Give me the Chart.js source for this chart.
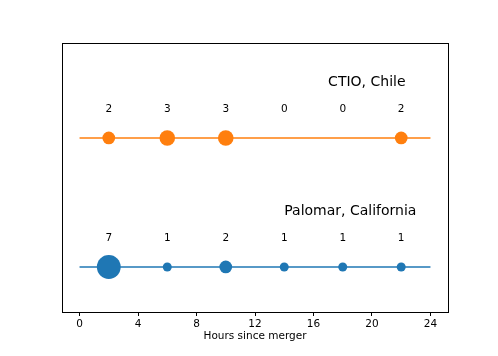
<!DOCTYPE html>
<html>
<head>
<meta charset="utf-8">
<script src="https://cdn.jsdelivr.net/npm/chart.js@4.4.1/dist/chart.umd.min.js"></script>
<style>
  html, body { margin: 0; padding: 0; background: #fff; }
  #wrap { width: 498px; height: 356px; }
</style>
</head>
<body>
<div id="wrap"><canvas id="chart" width="498" height="356"></canvas></div>
<script>
/* ── DATA ─────────────────────────────────────────────────── */
const hours         = [2, 6, 10, 14, 18, 22];
const ctioCounts    = [2, 3, 3, 0, 0, 2];
const palomarCounts = [7, 1, 2, 1, 1, 1];
const xTicks        = [0, 4, 8, 12, 16, 20, 24];
const siteNames     = ['CTIO, Chile', 'Palomar, California'];
const siteRows      = [1, 0];          // y position of each site row
const lineSpan      = [0, 24];
const xTitle        = 'Hours since merger';

const ORANGE = '#ff7f0e';
const BLUE   = '#1f77b4';
const FONT   = 'DejaVu Sans';

// marker radius grows with the square root of the count
const radiusFor = c => c > 0 ? 4.5 * Math.sqrt(c) : 0;

function rowDatasets(counts, row, color) {
  return [
    {
      type: 'line',
      data: lineSpan.map(x => ({ x, y: row })),
      borderColor: color,
      borderWidth: 1.6,
      pointRadius: 0,
      order: 2,
    },
    {
      type: 'scatter',
      data: hours.map(h => ({ x: h, y: row })),
      backgroundColor: color,
      borderWidth: 0,
      pointRadius: counts.map(radiusFor),
      pointHoverRadius: counts.map(radiusFor),
      order: 1,
    }
  ];
}

/* ── FRAME + LABELS PLUGIN ────────────────────────────────── */
const annotate = {
  id: 'annotate',
  afterDraw(chart) {
    const { ctx, chartArea: a, scales: { x, y } } = chart;
    ctx.save();
    ctx.strokeStyle = '#000';
    ctx.lineWidth = 1;
    ctx.strokeRect(Math.round(a.left) + 0.5, Math.round(a.top) + 0.5,
                   Math.round(a.right - a.left), Math.round(a.bottom - a.top));

    ctx.fillStyle = '#000';
    ctx.textBaseline = 'middle';
    ctx.textAlign = 'center';
    ctx.font = `10.5px "${FONT}"`;
    [ctioCounts, palomarCounts].forEach((counts, i) => {
      const py = y.getPixelForValue(siteRows[i] + 0.222);
      counts.forEach((c, j) => ctx.fillText(String(c), x.getPixelForValue(hours[j]), py));
    });

    // axis title
    ctx.fillText(xTitle, (a.left + a.right) / 2, a.bottom + 24);

    ctx.textAlign = 'left';
    ctx.font = `14px "${FONT}"`;
    ctx.fillText(siteNames[0], x.getPixelForValue(17), y.getPixelForValue(siteRows[0] + 0.43));
    ctx.fillText(siteNames[1], x.getPixelForValue(14), y.getPixelForValue(siteRows[1] + 0.43));
    ctx.restore();
  }
};

new Chart(document.getElementById('chart'), {
  data: {
    datasets: [
      ...rowDatasets(ctioCounts, siteRows[0], ORANGE),
      ...rowDatasets(palomarCounts, siteRows[1], BLUE),
    ]
  },
  options: {
    responsive: false,
    animation: false,
    layout: { padding: { left: 62, right: 50, top: 43, bottom: 0 } },
    plugins: { legend: { display: false }, tooltip: { enabled: false } },
    scales: {
      x: {
        type: 'linear',
        min: -1.2,
        max: 25.2,
        afterBuildTicks: s => { s.ticks = xTicks.map(v => ({ value: v })); },
        afterFit: s => { s.height = 44; },
        border: { display: false },
        grid: { drawOnChartArea: false, tickLength: 4, color: '#000', tickWidth: 1 },
        ticks: { color: '#000', padding: 2, font: { family: FONT, size: 10.5 } },
      },
      y: {
        type: 'linear',
        display: false,
        min: -0.349,
        max: 1.736,
      }
    }
  },
  plugins: [annotate]
});
</script>
</body>
</html>
